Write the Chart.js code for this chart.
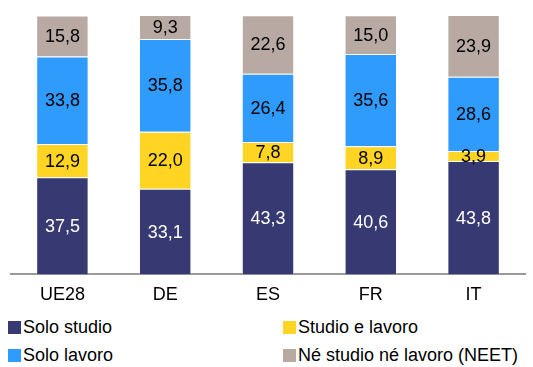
<!DOCTYPE html>
<html>
<head>
<meta charset="utf-8">
<script src="https://cdn.jsdelivr.net/npm/chart.js@4/dist/chart.umd.min.js"></script>
<style>
  html, body { margin: 0; padding: 0; background: #fff; }
  #wrap { position: relative; width: 533px; height: 367px; }
  #c { position: absolute; left: 0; top: 0; }
  .leg { position: absolute; font-family: "Liberation Sans", Arial, sans-serif; font-size: 18px; color: #000; white-space: nowrap; line-height: 20px; }
  .leg i { display: inline-block; width: 13px; height: 13px; margin-right: 2px; vertical-align: -1px; }
</style>
</head>
<body>
<div id="wrap">
  <canvas id="c" width="533" height="316"></canvas>
  <div id="legend"></div>
</div>
<script>
const categories = ['UE28', 'DE', 'ES', 'FR', 'IT'];
const soloStudio = [37.5, 33.1, 43.3, 40.6, 43.8];
const studioELavoro = [12.9, 22.0, 7.8, 8.9, 3.9];
const soloLavoro = [33.8, 35.8, 26.4, 35.6, 28.6];
const neet = [15.8, 9.3, 22.6, 15.0, 23.9];

const seriesNames = ['Solo studio', 'Studio e lavoro', 'Solo lavoro', 'Né studio né lavoro (NEET)'];
const seriesColors = ['#373a72', '#ffd422', '#2e9bfd', '#b8aaa3'];
const labelColors = ['#ffffff', '#000000', '#000000', '#000000'];
const seriesData = [soloStudio, studioELavoro, soloLavoro, neet];

const fontFamily = '"Liberation Sans", Arial, sans-serif';

// Writes each segment's value (comma decimal) in the middle of its bar
const valueLabels = {
  id: 'valueLabels',
  afterDatasetsDraw(chart) {
    const ctx = chart.ctx;
    ctx.save();
    ctx.font = '18px ' + fontFamily;
    ctx.textAlign = 'center';
    ctx.textBaseline = 'middle';
    chart.data.datasets.forEach((ds, di) => {
      const meta = chart.getDatasetMeta(di);
      meta.data.forEach((bar, i) => {
        const v = ds.data[i];
        const p = bar.getProps(['x', 'y', 'base'], true);
        ctx.fillStyle = labelColors[di];
        ctx.fillText(v.toFixed(1).replace('.', ','), p.x, (p.y + p.base) / 2 + 1);
      });
    });
    ctx.restore();
  }
};

new Chart(document.getElementById('c'), {
  type: 'bar',
  data: {
    labels: categories,
    datasets: seriesData.map((d, i) => ({
      label: seriesNames[i],
      data: d,
      backgroundColor: seriesColors[i],
      borderColor: 'rgba(255,255,255,0.35)',
      borderWidth: 1,
      barPercentage: 0.51,
      categoryPercentage: 1.0
    }))
  },
  options: {
    responsive: false,
    animation: false,
    layout: { padding: { left: 11, right: 8, top: 15, bottom: 0 } },
    plugins: { legend: { display: false }, tooltip: { enabled: false } },
    scales: {
      x: {
        stacked: true,
        grid: { display: false, drawTicks: false },
        border: { display: true, color: '#9a9a9a', width: 2 },
        ticks: { color: '#000', font: { family: fontFamily, size: 18 }, padding: 10 }
      },
      y: {
        stacked: true,
        display: false,
        min: 0,
        max: 100.2
      }
    }
  },
  plugins: [valueLabels]
});

// Legend in two columns below the chart
const legendPos = [[8, 317], [283, 317], [8, 345], [283, 345]];
const legendEl = document.getElementById('legend');
seriesNames.forEach((name, k) => {
  const d = document.createElement('div');
  d.className = 'leg';
  d.style.left = legendPos[k][0] + 'px';
  d.style.top = legendPos[k][1] + 'px';
  d.innerHTML = '<i style="background:' + seriesColors[k] + '"></i>' + name;
  legendEl.appendChild(d);
});
</script>
</body>
</html>
